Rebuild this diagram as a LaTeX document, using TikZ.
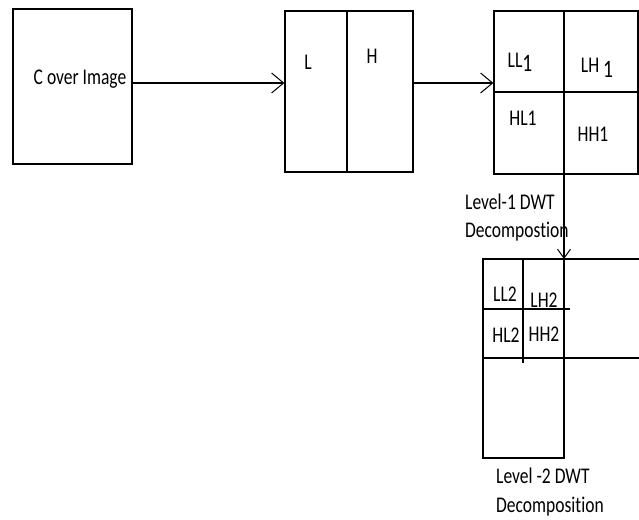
\documentclass[tikz,border=0pt]{standalone}
\usepackage{graphicx}
\usepackage{fontspec}
\setmainfont{Carlito}[Ligatures=NoCommon]
\usetikzlibrary{arrows.meta}
\newcommand{\vtxt}[1]{\scalebox{1.03}[1.32]{#1}}
\begin{document}
\begin{tikzpicture}[x=1pt,y=-1pt,
  box/.style={draw,line width=1.3pt,inner sep=0pt},
  ln/.style={line width=1.3pt},
  arr/.style={line width=1.3pt,-{Straight Barb[length=12pt,width=20pt,line width=1pt]}},
  sarr/.style={line width=1.3pt,-{Straight Barb[length=9pt,width=13pt,line width=1pt]}},
  lab/.style={inner sep=0pt,font=\fontsize{17}{20}\selectfont}]
\useasboundingbox (0,0) rectangle (639,519);
\fill[white] (0,0) rectangle (639,519);
% boxes
\node[box,minimum width=119pt,minimum height=155pt] (cover) at (72.5,86.5) {};
\node[box,minimum width=128pt,minimum height=161pt] (lh) at (349,91.5) {};
\node[box,minimum width=144pt,minimum height=163pt] (l1) at (566,92.5) {};
% dividers
\coordinate (d1) at (347,0);
\draw[ln] (lh.north -| d1) -- (lh.south -| d1);
\coordinate (d2) at (564,92);
\draw[ln] (l1.north -| d2) -- (l1.south -| d2);
\draw[ln] (l1.west |- d2) -- (l1.east |- d2);
% level-2 grid
\coordinate (t2l) at (483,259);
\coordinate (t2m) at (564,259);
\coordinate (t2r) at (639,259);
\coordinate (b2l) at (483,458);
\coordinate (b2m) at (564,458);
\coordinate (m2l) at (482,358);
\coordinate (m2r) at (639,358);
\draw[ln] (t2r) -- (t2l) -- (b2l) -- (b2m) -- (t2m);
\draw[ln] (m2l) -- (m2r);
\coordinate (s1) at (483,309);
\coordinate (s2) at (570,309);
\coordinate (s3) at (523,259);
\coordinate (s4) at (523,363);
\draw[ln] (s1) -- (s2);
\draw[ln] (s3) -- (s4);
% arrows
\coordinate (a1) at (0,83);
\draw[arr] (cover.east |- a1) -- (lh.west |- a1);
\draw[arr] (lh.east |- a1) -- (l1.west |- a1);
\draw[sarr] (l1.south -| d2) -- (t2m);
% labels
\node[lab] (tcover) at (80,79) {\vtxt{C over Image}};
\node[lab] (tl) at (308,62) {\vtxt{L}};
\node[lab] (th) at (372,56) {\vtxt{H}};
\node[lab] (tll1) at (520,62) {\vtxt{LL\raisebox{-3pt}{\fontsize{19}{20}\selectfont 1}}};
\node[lab] (tlh1) at (597,68) {\vtxt{LH \raisebox{-4pt}{\fontsize{19}{20}\selectfont 1}}};
\node[lab] (thl1) at (523,118) {\vtxt{HL1}};
\node[lab] (thh1) at (593,134) {\vtxt{HH1}};
\node[lab,anchor=west] (tlev1a) at (465,202) {\vtxt{Level-1 DWT}};
\node[lab,anchor=west] (tlev1b) at (465,232) {\vtxt{Decompostion}};
\node[lab] (tll2) at (505,294) {\vtxt{LL2}};
\node[lab] (tlh2) at (544,300) {\vtxt{LH2}};
\node[lab] (thl2) at (506,335) {\vtxt{HL2}};
\node[lab] (thh2) at (544,334) {\vtxt{HH2}};
\node[lab,anchor=west] (tlev2a) at (496,476) {\vtxt{Level -2 DWT}};
\node[lab,anchor=west] (tlev2b) at (496,507) {\vtxt{Decomposition}};
\end{tikzpicture}
\end{document}
